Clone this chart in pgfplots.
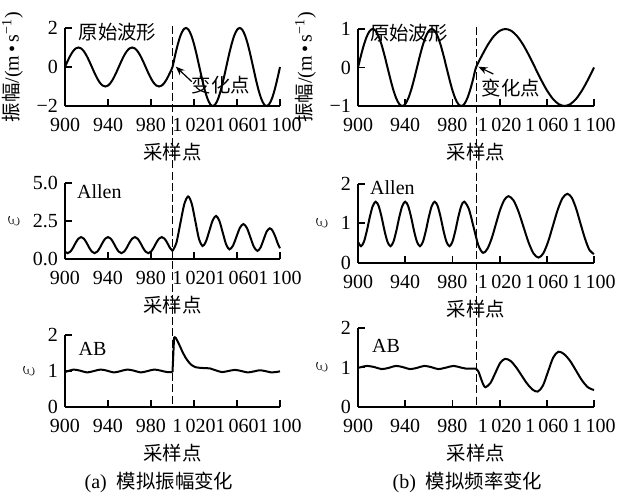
\documentclass[border=0pt]{standalone}
\usepackage{pgfplots}
\pgfplotsset{compat=1.18}
\usepackage{fontspec}
\setmainfont{Liberation Serif}
\newfontfamily\cjk{Noto Sans CJK SC}
\usetikzlibrary{arrows.meta}
\newcommand\zh[1]{{\cjk\fontsize{9.7}{12}\selectfont #1}}
\newcommand\eps{{\fontsize{12}{14}\selectfont$\varepsilon$}}
\pgfplotsset{
  base/.style={
    scale only axis, anchor=south west, clip=false,
    axis lines*=left, axis line style={-, line width=0.9pt},
    tick align=inside, major tick length=3.5pt,
    tick style={black, line width=0.9pt},
    xmin=900, xmax=1100,
    xtick={900,940,980,1020,1060,1100},
    xticklabels={900,940,980,1\,020,1\,060,1\,100},
    xticklabel style={yshift=-2.5pt},
    xlabel={\zh{采样点}},
    xlabel style={at={(axis description cs:0.5,0)}, anchor=center, yshift=-23pt},
    tick label style={font=\fontsize{10}{12}\selectfont},
    label style={font=\fontsize{10}{12}\selectfont},
  },
  curve/.style={black, line width=1pt, smooth, no marks},
  Lcol/.style={base, width=107.5pt},
  Rcol/.style={base, width=118pt},
}
\begin{document}
\begin{tikzpicture}[font=\fontsize{10}{12}\selectfont]
\useasboundingbox (0,0) rectangle (313.5pt,248.5pt);
%================ left top
\begin{axis}[Lcol, at={(32.5pt,195.5pt)}, height=39pt,
  ymin=-2, ymax=2, ytick={-2,0,2}, yticklabels={−2,0,2},
  ylabel={\zh{振幅}/(m\,\textbullet\,s\textsuperscript{−1})}]
\addplot[curve] coordinates {
(900,0)(902.5,.309)(905,.588)(907.5,.809)(910,.951)(912.5,1)(915,.951)(917.5,.809)(920,.588)(922.5,.309)
(925,0)(927.5,-.309)(930,-.588)(932.5,-.809)(935,-.951)(937.5,-1)(940,-.951)(942.5,-.809)(945,-.588)(947.5,-.309)
(950,0)(952.5,.309)(955,.588)(957.5,.809)(960,.951)(962.5,1)(965,.951)(967.5,.809)(970,.588)(972.5,.309)
(975,0)(977.5,-.309)(980,-.588)(982.5,-.809)(985,-.951)(987.5,-1)(990,-.951)(992.5,-.809)(995,-.588)(997.5,-.309)
(1000,0)(1002.5,.618)(1005,1.176)(1007.5,1.618)(1010,1.902)(1012.5,2)(1015,1.902)(1017.5,1.618)(1020,1.176)(1022.5,.618)
(1025,0)(1027.5,-.618)(1030,-1.176)(1032.5,-1.618)(1035,-1.902)(1037.5,-2)(1040,-1.902)(1042.5,-1.618)(1045,-1.176)(1047.5,-.618)
(1050,0)(1052.5,.618)(1055,1.176)(1057.5,1.618)(1060,1.902)(1062.5,2)(1065,1.902)(1067.5,1.618)(1070,1.176)(1072.5,.618)
(1075,0)(1077.5,-.618)(1080,-1.176)(1082.5,-1.618)(1085,-1.902)(1087.5,-2)(1090,-1.902)(1092.5,-1.618)(1095,-1.176)(1097.5,-.618)
(1100,0)};
\node at (rel axis cs:0.244,0.95) {\zh{原始波形}};
\node at (rel axis cs:0.726,0.27) {\zh{变化点}};
\draw[-{Stealth[length=4.5pt,width=3.5pt]}, line width=0.6pt] (axis cs:1017.9,-0.75) -- (axis cs:1003,0.02);
\coordinate (LT) at (axis cs:1000,2.1);
\end{axis}
%================ left middle
\begin{axis}[Lcol, at={(32.5pt,118.85pt)}, height=38.3pt,
  ymin=0, ymax=5, ytick={0,2.5,5}, yticklabels={0.0,2.5,5.0},
  ylabel={\eps}]
\addplot[curve] coordinates {
(900,.50)(902.5,.40)(905,.50)(907.5,.76)(910,1.09)(912.5,1.35)(915,1.45)(917.5,1.35)(920,1.09)(922.5,.76)
(925,.50)(927.5,.40)(930,.50)(932.5,.76)(935,1.09)(937.5,1.35)(940,1.45)(942.5,1.35)(945,1.09)(947.5,.76)
(950,.50)(952.5,.40)(955,.50)(957.5,.76)(960,1.09)(962.5,1.35)(965,1.45)(967.5,1.35)(970,1.09)(972.5,.76)
(975,.50)(977.5,.40)(980,.50)(982.5,.76)(985,1.09)(987.5,1.35)(990,1.45)(992.5,1.35)(995,1.09)(997.5,.76)
(1000,.55)};
\addplot[curve] coordinates {
(1000,.55)(1003.6,1.07)(1007.25,2.33)(1010.9,3.58)(1014.5,4.1)(1017.9,3.63)(1021.25,2.49)(1024.6,1.34)(1028,.87)
(1031.1,1.16)(1034.25,1.85)(1037.4,2.54)(1040.5,2.83)(1043.6,2.51)(1046.75,1.74)(1049.9,.97)(1053,.65)
(1056.25,.89)(1059.5,1.475)(1062.75,2.06)(1066,2.3)(1069.25,2.04)(1072.5,1.425)(1075.75,.81)(1079,.55)
(1081.9,.77)(1084.75,1.285)(1087.6,1.81)(1090.5,2.02)(1093,1.88)(1095.5,1.5)(1098,1.02)(1100,.72)};
\node at (rel axis cs:0.16,0.88) {Allen};
\end{axis}
%================ left bottom
\begin{axis}[Lcol, at={(32.5pt,45pt)}, height=36pt,
  ymin=0, ymax=2, ytick={0,1,2}, yticklabels={0,1,2},
  ylabel={\eps}]
\addplot[curve] coordinates {
(900,.97)(904,1.01)(908,1.04)(914,1.01)(920.5,.96)(927,1.0)(933,1.04)(939,1.01)(945.5,.96)(952,1.0)
(958,1.04)(964,1.01)(970.5,.96)(977,1.0)(983,1.04)(989,1.01)(995,.97)(1000,.97)};
\addplot[black, line width=1pt, no marks] coordinates {(1000,.97)(1001.5,1.95)};
\addplot[curve] coordinates {
(1001.5,1.95)(1003,1.92)(1006,1.75)(1009,1.55)(1012,1.38)(1015,1.25)(1018,1.16)(1021,1.11)(1025,1.09)
(1030,1.08)(1035,1.07)(1040,1.02)(1046,.97)(1052,1.0)(1058,1.03)(1064,1.0)(1070,.96)(1076,.99)
(1081,1.02)(1086,1.0)(1092,.96)(1096,.97)(1100,.99)};
\node at (rel axis cs:0.128,0.8) {AB};
\coordinate (LB) at (axis cs:1000,0);
\node at (rel axis cs:0.437,-1.05) {(a)~~\zh{模拟振幅变化}};
\end{axis}
%================ right top
\begin{axis}[Rcol, at={(179pt,195.5pt)}, height=38.5pt,
  ymin=-1, ymax=1, ytick={-1,0,1}, yticklabels={−1,0,1},
  ylabel={\zh{振幅}/(m\,\textbullet\,s\textsuperscript{−1})}]
\addplot[curve] coordinates {
(900,0)(902.5,.309)(905,.588)(907.5,.809)(910,.951)(912.5,1)(915,.951)(917.5,.809)(920,.588)(922.5,.309)
(925,0)(927.5,-.309)(930,-.588)(932.5,-.809)(935,-.951)(937.5,-1)(940,-.951)(942.5,-.809)(945,-.588)(947.5,-.309)
(950,0)(952.5,.309)(955,.588)(957.5,.809)(960,.951)(962.5,1)(965,.951)(967.5,.809)(970,.588)(972.5,.309)
(975,0)(977.5,-.309)(980,-.588)(982.5,-.809)(985,-.951)(987.5,-1)(990,-.951)(992.5,-.809)(995,-.588)(997.5,-.309)
(1000,0)(1005,.309)(1010,.588)(1015,.809)(1020,.951)(1025,1)(1030,.951)(1035,.809)(1040,.588)(1045,.309)
(1050,0)(1055,-.309)(1060,-.588)(1065,-.809)(1070,-.951)(1075,-1)(1080,-.951)(1085,-.809)(1090,-.588)(1095,-.309)
(1100,0)};
\node at (rel axis cs:0.216,0.948) {\zh{原始波形}};
\node at (rel axis cs:0.648,0.234) {\zh{变化点}};
\draw[-{Stealth[length=4.5pt,width=3.5pt]}, line width=0.6pt] (axis cs:1014.7,-0.17) -- (axis cs:1002,0.02);
\coordinate (RT) at (axis cs:1000,1.05);
\end{axis}
%================ right middle
\begin{axis}[Rcol, at={(179pt,117.15pt)}, height=39.35pt,
  ymin=0, ymax=2, ytick={0,1,2}, yticklabels={0,1,2},
  ylabel={\eps}]
\addplot[curve] coordinates {
(900,.53)(902.5,.42)(905,.53)(907.5,.81)(910,1.16)(912.5,1.44)(915,1.55)(917.5,1.44)(920,1.16)(922.5,.81)
(925,.53)(927.5,.42)(930,.53)(932.5,.81)(935,1.16)(937.5,1.44)(940,1.55)(942.5,1.44)(945,1.16)(947.5,.81)
(950,.53)(952.5,.42)(955,.53)(957.5,.81)(960,1.16)(962.5,1.44)(965,1.55)(967.5,1.44)(970,1.16)(972.5,.81)
(975,.53)(977.5,.42)(980,.53)(982.5,.81)(985,1.16)(987.5,1.44)(990,1.55)(994,1.36)(998,.90)(1002,.44)
(1006,.25)(1009.6,.35)(1013.2,.61)(1016.75,.97)(1020.3,1.33)(1023.9,1.59)(1027.5,1.69)
(1031.75,1.585)(1036,1.30)(1040.25,.91)(1044.5,.52)(1048.75,.234)(1053,.13)
(1057.07,.24)(1061.13,.535)(1065.2,.94)(1069.27,1.345)(1073.33,1.64)(1077.4,1.75)
(1081.2,1.65)(1084.9,1.37)(1088.7,.98)(1092.5,.60)(1096.2,.32)(1100,.22)};
\node at (rel axis cs:0.146,0.95) {Allen};
\end{axis}
%================ right bottom
\begin{axis}[Rcol, at={(179pt,45pt)}, height=39.5pt,
  ymin=0, ymax=2, ytick={0,1,2}, yticklabels={0,1,2},
  ylabel={\eps}]
\addplot[curve] coordinates {
(900,.99)(904,1.02)(908,1.04)(914,1.01)(920,.96)(926,.99)(932,1.04)(938,1.01)(944,.96)(950,.99)
(956,1.04)(962,1.01)(968,.96)(975,1.0)(981,1.04)(987,1.0)(992,.97)(996,.97)(1000,.97)};
\addplot[curve] coordinates {
(1000,.97)(1002,.9)(1004,.74)(1006,.58)(1008,.5)(1012.2,.605)(1016.35,.86)(1020.5,1.115)(1024.7,1.22)
(1029.3,1.165)(1033.9,1.01)(1038.5,.805)(1043.1,.60)(1047.7,.446)(1052.3,.39)
(1056.7,.54)(1061.05,.895)(1065.4,1.25)(1069.8,1.40)
(1074.8,1.335)(1079.9,1.16)(1084.9,.915)(1089.9,.67)(1095,.495)(1100,.43)};
\node at (rel axis cs:0.119,0.77) {AB};
\coordinate (RB) at (axis cs:1000,0);
\node at (rel axis cs:0.464,-0.955) {(b)~~\zh{模拟频率变化}};
\end{axis}
\draw[dash pattern=on 4pt off 1.6pt, line width=0.5pt] (LT) -- (LB);
\draw[dash pattern=on 4pt off 1.6pt, line width=0.5pt] (RT) -- (RB);
\end{tikzpicture}
\end{document}
